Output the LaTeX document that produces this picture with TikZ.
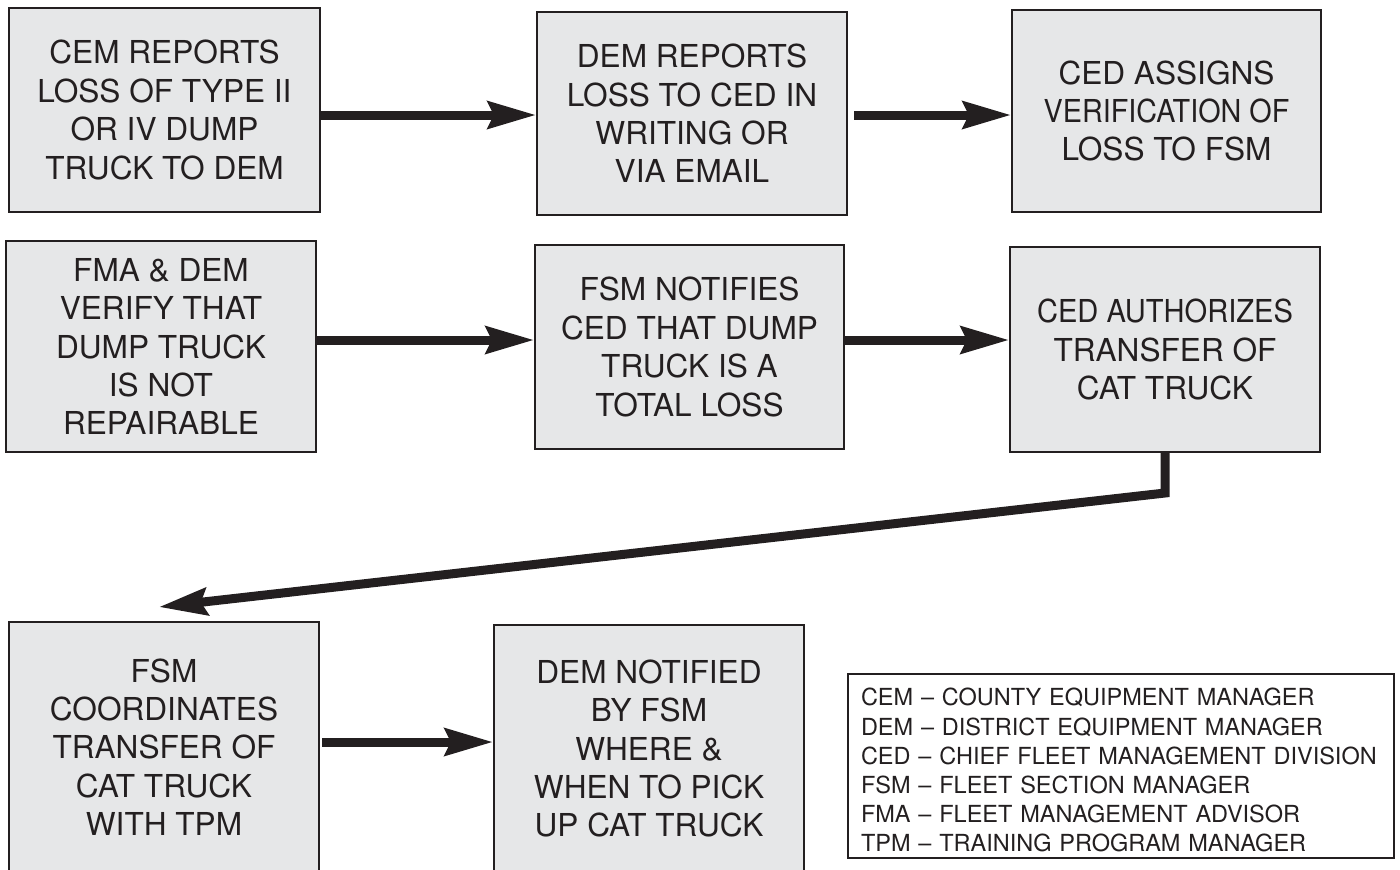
\documentclass[tikz,border=0pt]{standalone}
\usepackage{fontspec}
\setmainfont{TeX Gyre Heros}
\usetikzlibrary{arrows.meta}
\definecolor{ink}{HTML}{231F20}
\definecolor{boxfill}{HTML}{E6E7E8}
\begin{document}
\begin{tikzpicture}[x=0.5pt,y=-0.5pt,
  stepbox/.style={draw=ink, fill=boxfill, line width=1pt, align=center, inner sep=0pt,
    text=ink, font=\fontsize{15.8pt}{19.2pt}\selectfont},
  legendbox/.style={draw=ink, fill=white, line width=1pt, align=left, inner xsep=6.5pt,
    inner ysep=0pt, text width=260pt, minimum height=92pt, text=ink,
    font=\fontsize{11.75pt}{14.6pt}\selectfont},
  flow/.style={draw=ink, line width=4.5pt, line join=miter,
    -{Stealth[length=24pt,width=13.5pt,inset=3pt]}}]
\useasboundingbox (0,0) rectangle (1400,869);
\clip (0,0) rectangle (1400,869);

\node[stepbox, minimum width=155.5pt, minimum height=102pt] (b1) at (164.5,110)
  {CEM REPORTS\\LOSS OF TYPE II\\OR IV DUMP\\TRUCK TO DEM};
\node[stepbox, minimum width=155pt, minimum height=101.5pt] (b2) at (692,113.5)
  {DEM REPORTS\\LOSS TO CED IN\\WRITING OR\\VIA EMAIL};
\node[stepbox, minimum width=154.5pt, minimum height=101pt] (b3) at (1166.5,111)
  {CED ASSIGNS\\\scalebox{0.91}[1]{VERIFICATION OF}\\LOSS TO FSM};
\node[stepbox, minimum width=155pt, minimum height=105.5pt] (b4) at (161,346.5)
  {FMA \& DEM\\VERIFY THAT\\DUMP TRUCK\\IS NOT\\REPAIRABLE};
\node[stepbox, minimum width=154.5pt, minimum height=102pt] (b5) at (689.5,347)
  {FSM NOTIFIES\\CED THAT DUMP\\TRUCK IS A\\TOTAL LOSS};
\node[stepbox, minimum width=155pt, minimum height=102.5pt] (b6) at (1165,349.5)
  {\scalebox{0.92}[1]{CED AUTHORIZES}\\TRANSFER OF\\CAT TRUCK};
\node[stepbox, minimum width=155pt, minimum height=125pt] (b7) at (164,747)
  {FSM\\COORDINATES\\TRANSFER OF\\CAT TRUCK\\WITH TPM};
\node[stepbox, minimum width=155pt, minimum height=123.5pt] (b8) at (649,748.5)
  {DEM NOTIFIED\\BY FSM\\WHERE \&\\WHEN TO PICK\\UP CAT TRUCK};
\node[legendbox] (legend) at (1121,766)
  {\rule{0pt}{13pt}\mbox{CEM – COUNTY EQUIPMENT MANAGER}\\
   \mbox{DEM – DISTRICT EQUIPMENT MANAGER}\\
   \mbox{CED – CHIEF FLEET MANAGEMENT DIVISION}\\
   \mbox{FSM – FLEET SECTION MANAGER}\\
   \mbox{FMA – FLEET MANAGEMENT ADVISOR}\\
   \mbox{TPM – TRAINING PROGRAM MANAGER}};

\coordinate (bend) at (1165,493);
\coordinate (tipc) at (159,607);

\draw[flow] ([yshift=-2.5pt]b1.east) -- ([yshift=-2.5pt]b1.east -| b2.west);
\draw[flow, shorten <=3pt] ([yshift=-0.75pt]b2.east) -- ([yshift=-0.75pt]b2.east -| b3.west);
\draw[flow] ([yshift=3.25pt]b4.east) -- ([yshift=3.25pt]b4.east -| b5.west);
\draw[flow] ([yshift=3.5pt]b5.east) -- ([yshift=3.5pt]b5.east -| b6.west);
\draw[flow] (b6.south) -- (bend) -- (tipc);
\draw[flow, shorten <=1pt] ([yshift=2.5pt]b7.east) -- ([yshift=2.5pt]b7.east -| b8.west);
\end{tikzpicture}
\end{document}
